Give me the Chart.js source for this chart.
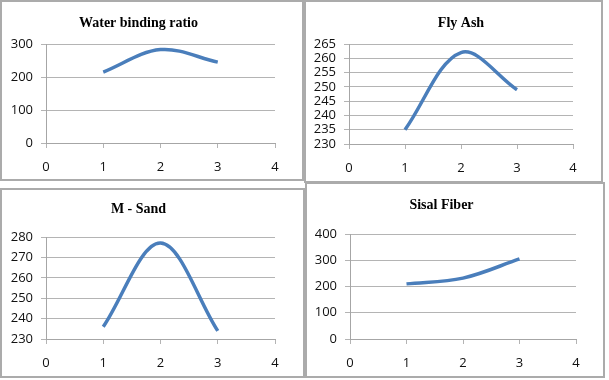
<!DOCTYPE html>
<html>
<head>
<meta charset="utf-8">
<script src="https://cdn.jsdelivr.net/npm/chart.js@4.4.1/dist/chart.umd.min.js"></script>
<style>
  html, body { margin: 0; padding: 0; background: #fff; }
  body { width: 609px; height: 380px; position: relative; overflow: hidden; }
  .box { position: absolute; box-sizing: border-box; border: 2px solid #ababab; background: #fff; }
  .box canvas { display: block; }
</style>
</head>
<body>
<div class="box" style="left:0;top:0;width:304px;height:181px"><canvas id="waterChart" width="300" height="177"></canvas></div>
<div class="box" style="left:304px;top:0;width:299px;height:183px"><canvas id="flyAshChart" width="295" height="179"></canvas></div>
<div class="box" style="left:0;top:188px;width:305px;height:190px"><canvas id="mSandChart" width="301" height="186"></canvas></div>
<div class="box" style="left:305px;top:182px;width:300px;height:196px"><canvas id="sisalChart" width="296" height="192"></canvas></div>
<script>
// mix proportions (x) and the measured values of each chart
const xValues = [1, 2, 3];
const xTicks = [0, 1, 2, 3, 4];

const waterValues = [215, 283, 245];
const waterTicks = [0, 100, 200, 300];

const flyAshValues = [235, 262, 249];
const flyAshTicks = [230, 235, 240, 245, 250, 255, 260, 265];

const mSandValues = [236, 277, 234];
const mSandTicks = [230, 240, 250, 260, 270, 280];

const sisalValues = [210, 232, 305];
const sisalTicks = [0, 100, 200, 300, 400];

const lineColor = '#4a7ebb';
const gridColor = '#b4b4b4';
const axisColor = '#a6a6a6';
const tickFont = { family: 'Open Sans', size: 13 };

function makeChart(id, title, values, yTicks, box) {
  const ctx = document.getElementById(id);
  return new Chart(ctx, {
    type: 'line',
    data: {
      datasets: [{
        data: xValues.map((x, i) => ({ x, y: values[i] })),
        borderColor: lineColor,
        borderWidth: 3.5,
        pointRadius: 0,
        tension: 0.35,
        fill: false
      }]
    },
    options: {
      responsive: false,
      animation: false,
      layout: { padding: { left: 0, right: box.right, top: 0, bottom: 0 } },
      plugins: {
        legend: { display: false },
        tooltip: { enabled: false },
        title: {
          display: true,
          text: title,
          fullSize: box.fullTitle,
          color: '#000',
          font: { family: 'Liberation Serif', size: 14, weight: 'bold', lineHeight: 1 },
          padding: { top: box.titleTop, bottom: box.titleBottom }
        }
      },
      scales: {
        x: {
          type: 'linear',
          min: xTicks[0],
          max: xTicks[xTicks.length - 1],
          afterFit: s => { s.height = box.xHeight; },
          afterBuildTicks: s => { s.ticks = xTicks.map(v => ({ value: v })); },
          ticks: { color: '#111', padding: 11, autoSkip: false, font: tickFont },
          grid: { drawOnChartArea: false, tickLength: 5, color: gridColor },
          border: { color: axisColor }
        },
        y: {
          min: yTicks[0],
          max: yTicks[yTicks.length - 1],
          afterFit: s => { s.width = box.yWidth; },
          afterBuildTicks: s => { s.ticks = yTicks.map(v => ({ value: v })); },
          ticks: { color: '#111', padding: 8, autoSkip: false, font: tickFont },
          grid: { tickLength: 5, color: gridColor },
          border: { color: axisColor }
        }
      }
    }
  });
}

makeChart('waterChart', 'Water binding ratio', waterValues, waterTicks,
  { right: 27, yWidth: 44, xHeight: 36, titleTop: 14, titleBottom: 14, fullTitle: true });
makeChart('flyAshChart', 'Fly Ash', flyAshValues, flyAshTicks,
  { right: 28, yWidth: 43, xHeight: 37, titleTop: 14.2, titleBottom: 13.8, fullTitle: false });
makeChart('mSandChart', 'M - Sand', mSandValues, mSandTicks,
  { right: 28, yWidth: 44, xHeight: 37, titleTop: 12.5, titleBottom: 20.5, fullTitle: true });
makeChart('sisalChart', 'Sisal Fiber', sisalValues, sisalTicks,
  { right: 27, yWidth: 43, xHeight: 37, titleTop: 14.5, titleBottom: 21.5, fullTitle: true });
</script>
</body>
</html>
